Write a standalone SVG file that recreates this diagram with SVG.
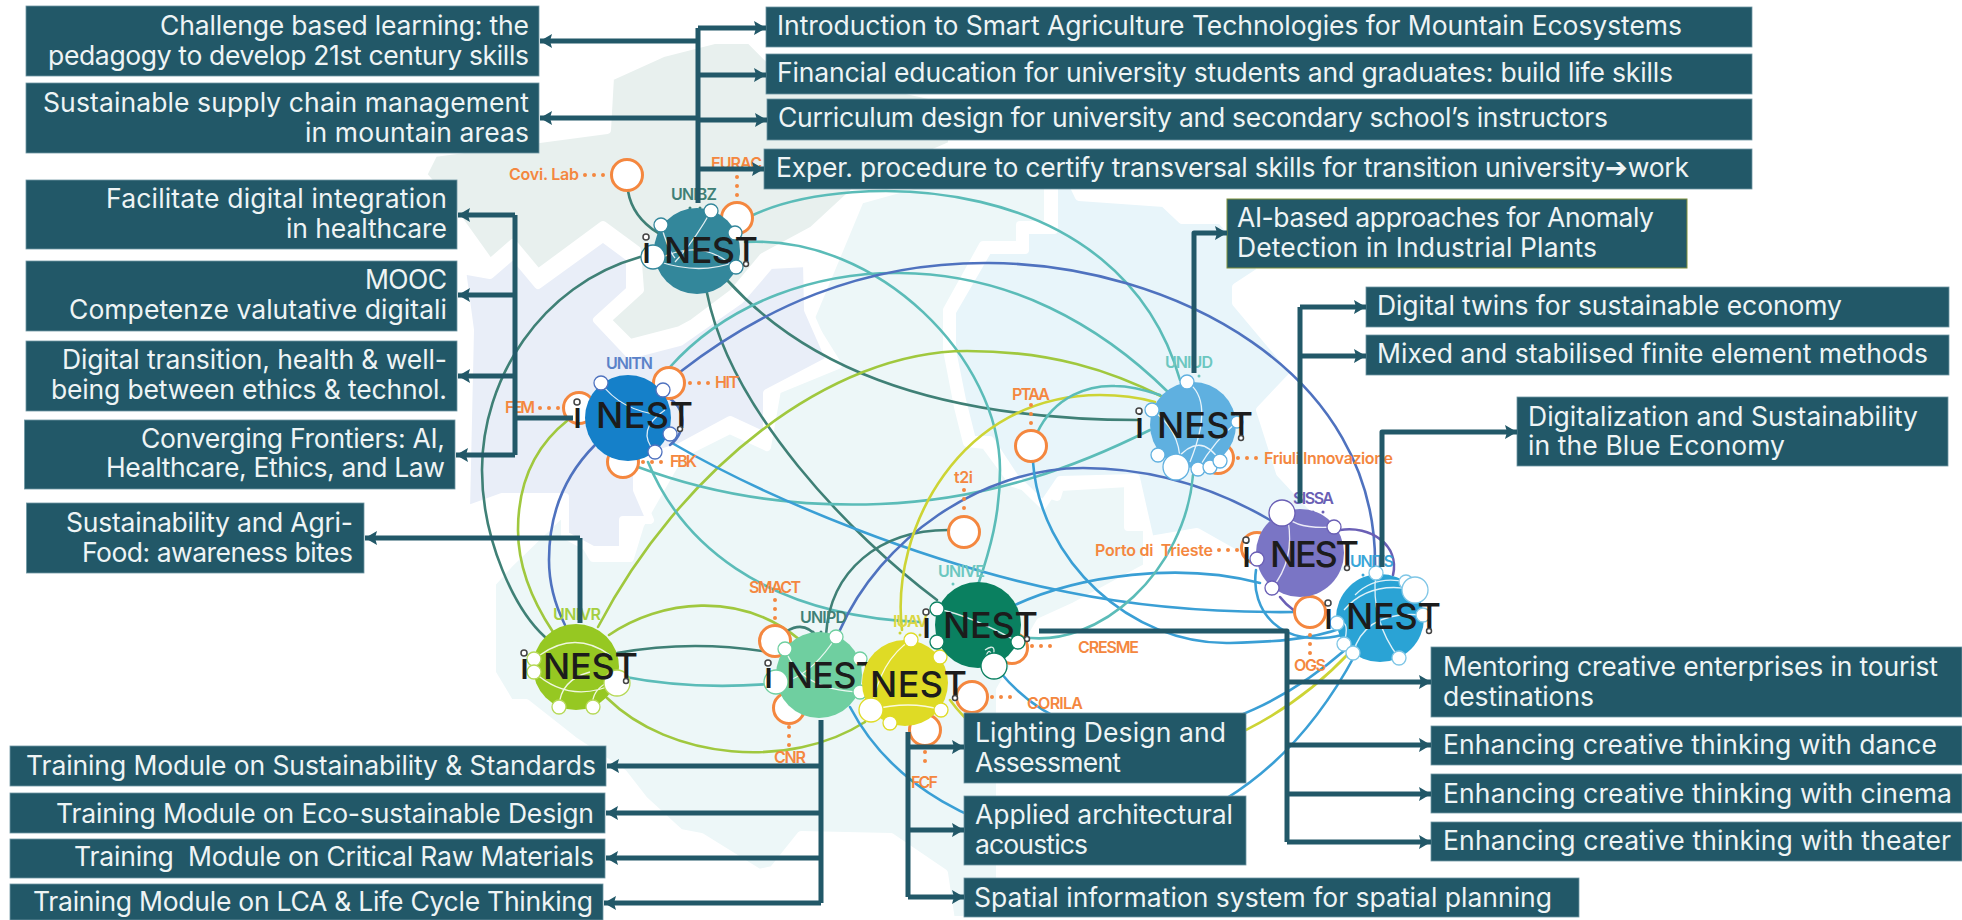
<svg xmlns="http://www.w3.org/2000/svg" width="1962" height="920" viewBox="0 0 1962 920">
<style>
.box{fill:#225868;stroke:#6f97a3;stroke-width:.8}
.t{font-family:"Inter","Liberation Sans",sans-serif;font-size:26.500px;fill:#eef4f5;font-weight:400}
.o{font-family:"Inter","Liberation Sans",sans-serif;font-size:16px;fill:#f4873f;font-weight:600}
.nl{font-family:"Inter","Liberation Sans",sans-serif;font-size:16px;font-weight:600}
.logo{font-family:"Inter","Liberation Sans",sans-serif;font-size:36px;fill:#1c1c1c;font-weight:500}
.ring{fill:#fff;stroke:#444;stroke-width:1.500}
.map{stroke:#fff;stroke-width:8;stroke-linejoin:round}
.c{fill:none;stroke-width:2.600;stroke-linecap:round}
.tg{stroke:#5bbcb8}.dg{stroke:#3f8076}.bl{stroke:#3a9fd5}.nv{stroke:#4f72bf}.yg{stroke:#a0c83e}.ye{stroke:#cdd435}.pu{stroke:#6a5fb5}
.p{fill:#fff;stroke:#f4873f;stroke-width:3}
.d{fill:none;stroke:#f4873f;stroke-width:4;stroke-linecap:round;stroke-dasharray:0 9}
.w{fill:none;stroke:#fff;stroke-width:1.300;opacity:.85}
.s{fill:#fff;stroke-width:1.300}
.a{fill:none;stroke:#225868;stroke-width:5;stroke-linejoin:round}
.ah{marker-end:url(#tip)}
</style>
<defs>
<marker id="tip" markerUnits="userSpaceOnUse" markerWidth="14" markerHeight="16" refX="12" refY="7.500" orient="auto"><path d="M0,0.500L12,7.500L0,14.500L2,7.500Z" fill="#225868"/></marker>
</defs>
<rect width="1962" height="920" fill="#fff"/>
<g id="map">
<polygon class="map" fill="#edf7f8" points="492,583 510,563 565,510 593,558 630,558 640,525 680,455 730,430 767,447 777,390 838,365 810,320 860,200 950,175 1048,145 1048,225 1020,225 1020,245 983,245 947,310 947,350 958,407 967,443 985,445 1013,483 1057,497 1060,487 1128,483 1128,527 1147,527 1147,567 1073,607 1040,622 1000,690 1000,865 1000,920 951,920 944,873 891,837 801,835 773,870 759,873 701,837 680,833 644,800 623,773 573,740 526,703 510,703 492,673"/>
<polygon class="map" fill="#e8f5fa" points="1054,145 1079,197 1164,203 1182,220 1221,220 1262,270 1236,287 1236,303 1295,373 1260,410 1280,473 1333,530 1350,572 1300,590 1197,532 1150,540 1136,478 1060,480 1043,505 1015,478 990,440 972,440 962,400 952,350 952,312 988,250 1025,250 1025,230 1054,230"/>
<polygon class="map" fill="#e9eef8" points="462,270 490,275 513,255 538,285 603,238 630,258 630,290 597,320 630,355 680,342 740,300 770,265 807,263 808,310 830,360 767,393 767,437 730,420 680,447 637,460 637,490 650,520 623,520 623,550 593,550 565,535 565,497 502,497 466,510 470,330"/>
<polygon class="map" fill="#e8f0ee" points="423,175 434,153 607,130 610,77 663,53 714,40 750,40 770,60 952,100 952,145 860,185 853,193 813,230 763,257 733,293 693,323 680,330 630,343 607,320 640,290 637,250 603,225 538,273 513,243 490,263 445,200"/>
</g>
<g id="connectors-links">
<path class="c dg" d="M628,191C632,215 650,228 658,233"/>
<path class="c dg" d="M640,257C540,285 482,380 482,470C482,540 515,610 545,637"/>
<path class="c dg" d="M707,293C730,410 850,535 937,600"/>
<path class="c dg" d="M727,280C800,360 920,420 1140,420"/>
<path class="c tg" d="M753,215C850,170 1120,170 1180,380"/>
<path class="c tg" d="M745,242C880,235 1000,360 1000,470C1000,515 990,550 978,585"/>
<path class="c tg" d="M670,367C730,300 820,272 900,273C1010,274 1100,325 1168,392"/>
<path class="c nv" d="M680,372C760,310 860,262 989,263C1170,264 1380,370 1375,570"/>
<path class="c yg" d="M598,627C680,470 830,351 967,351C1050,351 1110,370 1165,398"/>
<path class="c yg" d="M609,635C660,600 740,590 800,640"/>
<path class="c dg" d="M617,653Q700,638 785,655"/>
<path class="c tg" d="M620,676Q700,692 790,682"/>
<path class="c yg" d="M607,698C670,760 790,770 865,722"/>
<path class="c yg" d="M568,420C530,450 518,490 518,530C518,570 535,605 553,632"/>
<path class="c nv" d="M595,445C560,480 549,520 549,560C549,585 555,605 565,625"/>
<path class="c tg" d="M638,467C740,505 830,506 880,504C990,500 1080,465 1150,430"/>
<path class="c tg" d="M648,462C680,540 760,615 920,622"/>
<path class="c bl" d="M672,443C770,500 930,565 1067,592C1130,605 1200,613 1295,612"/>
<path class="c bl" d="M1015,605C1080,575 1180,562 1260,583"/>
<path class="c bl" d="M1256,570C1250,610 1280,650 1342,635"/>
<path class="c dg" d="M948,530C880,530 830,570 826,635"/>
<path class="c nv" d="M840,630C880,540 980,468 1083,468C1150,468 1210,485 1270,520"/>
<path class="c ye" d="M902,630C890,530 960,395 1100,395Q1130,395 1155,402"/>
<path class="c bl" d="M1033,462C1040,560 1130,645 1230,643C1270,642 1310,640 1342,628"/>
<path class="c tg" d="M1037,433C1055,395 1090,385 1115,386C1130,386 1145,390 1160,395"/>
<path class="c tg" d="M1193,475C1185,570 1100,650 1022,637"/>
<path class="c bl" d="M850,707C930,860 1210,925 1355,655"/>
<path class="c bl" d="M1000,672C1080,770 1230,750 1345,650"/>
<path class="c ye" d="M950,700C1030,810 1230,780 1350,652"/>
<path class="c dg" d="M787,631Q805,620 818,638"/>
<path class="c pu" d="M1340,530C1370,525 1400,545 1393,575"/>
<path class="c pu" d="M1280,597C1290,610 1300,615 1310,618"/>
<path class="c nv" d="M660,395C685,400 690,430 670,445"/>
</g>
<g id="partners">
<g id="p-covi"><path class="d" d="M585,175H606"/><circle class="p" cx="627" cy="175" r="15.500"/><text class="o" x="509" y="180" textLength="70">Covi. Lab</text></g>
<g id="p-eurac"><path class="d" d="M737,177V198"/><circle class="p" cx="737" cy="218" r="15.500"/><text class="o" x="711" y="169" textLength="51">EURAC</text></g>
<g id="p-hit"><path class="d" d="M690,383H711"/><circle class="p" cx="669" cy="383" r="15.500"/><text class="o" x="715" y="388" textLength="24">HIT</text></g>
<g id="p-fem"><path class="d" d="M540,408H561"/><circle class="p" cx="579" cy="408" r="15.500"/><text class="o" x="505" y="413" textLength="30">FEM</text></g>
<g id="p-fbk"><path class="d" d="M643,462H664"/><circle class="p" cx="623" cy="462" r="15.500"/><text class="o" x="670" y="467" textLength="27">FBK</text></g>
<g id="p-ptaa"><path class="d" d="M1031,405V426"/><circle class="p" cx="1031" cy="446" r="15.500"/><text class="o" x="1012" y="400" textLength="38">PTAA</text></g>
<g id="p-t2i"><path class="d" d="M964,490V511"/><circle class="p" cx="964" cy="532" r="15.500"/><text class="o" x="954" y="483" textLength="19">t2i</text></g>
<g id="p-friuli"><path class="d" d="M1238,458H1259"/><circle class="p" cx="1218" cy="458" r="15.500"/><text class="o" x="1264" y="464" textLength="129">Friuli Innovazione</text></g>
<g id="p-porto"><path class="d" d="M1219,550H1240"/><circle class="p" cx="1257" cy="548" r="15.500"/><text class="o" x="1095" y="556" textLength="118" xml:space="preserve">Porto di  Trieste</text></g>
<g id="p-ogs"><path class="d" d="M1310,635V661"/><circle class="p" cx="1310" cy="612" r="15.500"/><text class="o" x="1294" y="671" textLength="32">OGS</text></g>
<g id="p-cresme"><path class="d" d="M1032,646H1053"/><circle class="p" cx="1012" cy="648" r="15.500"/><text class="o" x="1078" y="653" textLength="61">CRESME</text></g>
<g id="p-corila"><path class="d" d="M992,697H1013"/><circle class="p" cx="972" cy="697" r="15.500"/><text class="o" x="1027" y="709" textLength="56">CORILA</text></g>
<g id="p-smact"><path class="d" d="M775,600V626"/><circle class="p" cx="775" cy="641" r="15.500"/><text class="o" x="749" y="593" textLength="52">SMACT</text></g>
<g id="p-cnr"><path class="d" d="M789,727V753"/><circle class="p" cx="789" cy="708" r="15.500"/><text class="o" x="774" y="763" textLength="32">CNR</text></g>
<g id="p-fcf"><path class="d" d="M925,752V770"/><circle class="p" cx="925" cy="730" r="15.500"/><text class="o" x="911" y="788" textLength="27">FCF</text></g>
</g>
<g id="node-unibz"><circle cx="690" cy="208" r="1.500" fill="#3f8076"/><circle cx="700" cy="208" r="1.500" fill="#3f8076"/><circle cx="697" cy="251" r="43" fill="#33879b"/>
<path class="w" d="M661,225Q668,250 675,258M711,211Q695,240 675,262M653,262Q700,235 735,268M660,262Q700,275 735,262"/>
<g class="s" stroke="#33879b"><circle cx="661" cy="225" r="7"/><circle cx="711" cy="211" r="7"/><circle cx="735" cy="233" r="7"/><circle cx="736" cy="267" r="7"/><circle cx="653" cy="257" r="12"/></g>
<text class="nl" x="671" y="200" textLength="46" fill="#3f8076">UNIBZ</text>
<text class="logo" x="642" y="263">i</text><text class="logo" x="664" y="263" textLength="94">NEST</text>
<circle class="ring" cx="646" cy="237" r="3"/><circle class="ring" cx="746" cy="264" r="2.500"/></g>
<g id="node-unitn"><circle cx="628" cy="418" r="43" fill="#1580c9"/>
<path class="w" d="M601,383Q620,410 660,415M655,452Q635,430 665,410"/>
<g class="s" stroke="#4f72bf"><circle cx="601" cy="383" r="7"/><circle cx="663" cy="390" r="7"/><circle cx="670" cy="434" r="7"/><circle cx="655" cy="452" r="7"/></g>
<text class="nl" x="606" y="369" textLength="47" fill="#5b82c8">UNITN</text>
<text class="logo" x="573" y="428">i</text><text class="logo" x="596" y="428" textLength="97">NEST</text>
<circle class="ring" cx="577" cy="402" r="3"/><circle class="ring" cx="680" cy="429" r="2.500"/></g>
<g id="node-uniud"><circle cx="1199" cy="376" r="1.500" fill="#6cc7c0"/><circle cx="1193" cy="425" r="43" fill="#5fb0e0"/>
<path class="w" d="M1187,382Q1215,400 1190,462M1152,410Q1180,430 1180,462M1176,460Q1200,430 1220,461M1237,422Q1215,440 1198,469"/>
<g class="s" stroke="#5fb0e0"><circle cx="1187" cy="382" r="7"/><circle cx="1152" cy="410" r="7"/><circle cx="1237" cy="422" r="6"/><circle cx="1158" cy="455" r="7"/><circle cx="1176" cy="467" r="13"/><circle cx="1198" cy="469" r="7"/><circle cx="1210" cy="467" r="7"/><circle cx="1220" cy="461" r="7"/></g>
<text class="nl" x="1165" y="368" textLength="48" fill="#6cc7c0">UNIUD</text>
<text class="logo" x="1135" y="438">i</text><text class="logo" x="1157" y="438" textLength="96">NEST</text>
<circle class="ring" cx="1139" cy="411" r="3"/><circle class="ring" cx="1241" cy="438" r="2.500"/></g>
<g id="node-sissa"><circle cx="1313" cy="512" r="1.500" fill="#6a5fb5"/><circle cx="1323" cy="512" r="1.500" fill="#6a5fb5"/><circle cx="1300" cy="553" r="44" fill="#7a75c5"/>
<path class="w" d="M1282,513Q1295,530 1334,527M1288,520Q1295,560 1272,588"/>
<g class="s" stroke="#6a5fb5"><circle cx="1282" cy="513" r="13"/><circle cx="1334" cy="527" r="7"/><circle cx="1257" cy="559" r="7"/><circle cx="1272" cy="588" r="7"/></g>
<text class="nl" x="1293" y="504" textLength="41" fill="#6a5fb5">SISSA</text>
<text class="logo" x="1242" y="567">i</text><text class="logo" x="1270" y="567" textLength="89">NEST</text>
<circle class="ring" cx="1246" cy="540" r="3"/><circle class="ring" cx="1347" cy="568" r="2.500"/></g>
<g id="node-units"><circle cx="1363" cy="575" r="1.500" fill="#3aa6d8"/><circle cx="1380" cy="618" r="44" fill="#2aa3d5"/>
<path class="w" d="M1344,610Q1370,580 1415,590M1355,595Q1375,575 1406,582M1376,573Q1370,620 1399,658M1353,653Q1365,610 1423,615M1344,644Q1350,620 1340,623"/>
<g class="s" stroke="#7fc6e6"><circle cx="1376" cy="573" r="7"/><circle cx="1406" cy="582" r="7"/><circle cx="1415" cy="590" r="13"/><circle cx="1423" cy="615" r="7"/><circle cx="1337" cy="623" r="7"/><circle cx="1344" cy="644" r="7"/><circle cx="1353" cy="653" r="7"/><circle cx="1399" cy="658" r="7"/></g>
<text class="nl" x="1350" y="567" textLength="44" fill="#3aa6d8">UNITS</text>
<text class="logo" x="1324" y="629">i</text><text class="logo" x="1346" y="629" textLength="95">NEST</text>
<circle class="ring" cx="1328" cy="603" r="3"/><circle class="ring" cx="1429" cy="631" r="2.500"/></g>
<g id="node-unipd"><circle cx="813" cy="632" r="1.500" fill="#3f8076"/><circle cx="821" cy="632" r="1.500" fill="#3f8076"/><circle cx="819" cy="675" r="43" fill="#6fcfa0"/>
<path class="w" d="M836,637Q815,670 790,680M785,649Q800,690 860,692"/>
<g class="s" stroke="#6fcfa0"><circle cx="785" cy="649" r="7"/><circle cx="836" cy="637" r="7"/><circle cx="860" cy="659" r="7"/><circle cx="860" cy="692" r="7"/><circle cx="776" cy="682" r="12"/></g>
<text class="nl" x="800" y="623" textLength="47" fill="#3f8076">UNIPD</text>
<text class="logo" x="764" y="688">i</text><text class="logo" x="786" y="688" textLength="93">NEST</text>
<circle class="ring" cx="768" cy="663" r="3"/><circle class="ring" cx="868" cy="690" r="2.500"/></g>
<g id="node-iuav"><circle cx="900" cy="633" r="1.500" fill="#cdd435"/><circle cx="920" cy="635" r="1.500" fill="#cdd435"/><circle cx="905" cy="683" r="43" fill="#dfdb25"/>
<path class="w" d="M911,640Q880,660 871,710M871,710Q910,700 941,710"/>
<g class="s" stroke="#dfdb25"><circle cx="911" cy="640" r="7"/><circle cx="871" cy="710" r="12"/><circle cx="890" cy="723" r="7"/><circle cx="941" cy="710" r="7"/><circle cx="940" cy="657" r="7"/></g>
<text class="nl" x="893" y="627" textLength="35" fill="#dbd743">IUAV</text>
<text class="logo" x="870" y="697" textLength="97">NEST</text>
<circle class="ring" cx="955" cy="698" r="2.500"/></g>
<g id="node-unive"><circle cx="953" cy="584" r="1.500" fill="#6cc7c0"/><circle cx="978" cy="625" r="43" fill="#0a8060"/>
<path class="w" d="M937,609Q970,615 1018,642M985,660Q990,640 994,666M985,650Q1000,640 990,666"/>
<g class="s" stroke="#0a8060"><circle cx="937" cy="609" r="7"/><circle cx="937" cy="642" r="7"/><circle cx="1018" cy="642" r="7"/><circle cx="994" cy="666" r="13"/></g>
<text class="nl" x="938" y="577" textLength="47" fill="#6cc7c0">UNIVE</text>
<text class="logo" x="922" y="638">i</text><text class="logo" x="943" y="638" textLength="95">NEST</text>
<circle class="ring" cx="926" cy="612" r="3"/><circle class="ring" cx="1027" cy="639" r="2.500"/></g>
<g id="node-univr"><circle cx="576" cy="667" r="43" fill="#96c822"/>
<path class="w" d="M540,655Q575,630 610,655M534,672Q570,705 617,683M559,707Q560,680 590,672M593,707Q590,690 612,680"/>
<g class="s" stroke="#b6d957"><circle cx="534" cy="659" r="7"/><circle cx="534" cy="672" r="7"/><circle cx="617" cy="683" r="13"/><circle cx="559" cy="707" r="7"/><circle cx="593" cy="707" r="7"/></g>
<text class="nl" x="553" y="620" textLength="48" fill="#a5cf40">UNIVR</text>
<text class="logo" x="520" y="679">i</text><text class="logo" x="543" y="679" textLength="95">NEST</text>
<circle class="ring" cx="524" cy="653" r="3"/><circle class="ring" cx="626" cy="681" r="2.500"/></g>
<g id="box-challenge"><rect class="box" x="26" y="6" width="513" height="70"/><text class="t" x="160" y="35" textLength="369">Challenge based learning: the</text><text class="t" x="48" y="65" textLength="481">pedagogy to develop 21st century skills</text></g>
<g id="box-supply"><rect class="box" x="26" y="83" width="513" height="70"/><text class="t" x="43" y="112" textLength="486">Sustainable supply chain management</text><text class="t" x="305" y="142" textLength="224">in mountain areas</text></g>
<g id="box-facilitate"><rect class="box" x="26" y="180" width="431" height="69"/><text class="t" x="106" y="208" textLength="341">Facilitate digital integration</text><text class="t" x="286" y="238" textLength="161">in healthcare</text></g>
<g id="box-mooc"><rect class="box" x="26" y="261" width="431" height="70"/><text class="t" x="365" y="289" textLength="82">MOOC</text><text class="t" x="69" y="319" textLength="378">Competenze valutative digitali</text></g>
<g id="box-transition"><rect class="box" x="26" y="341" width="431" height="70"/><text class="t" x="62" y="369" textLength="385">Digital transition, health &amp; well-</text><text class="t" x="51" y="399" textLength="396">being between ethics &amp; technol.</text></g>
<g id="box-converging"><rect class="box" x="24.500" y="420" width="430.500" height="69"/><text class="t" x="141" y="448" textLength="304">Converging Frontiers: AI,</text><text class="t" x="106" y="477" textLength="339">Healthcare, Ethics, and Law</text></g>
<g id="box-agrifood"><rect class="box" x="26.500" y="503" width="337.500" height="70"/><text class="t" x="66" y="532" textLength="287">Sustainability and Agri-</text><text class="t" x="82" y="562" textLength="271">Food: awareness bites</text></g>
<g id="box-standards"><rect class="box" x="10" y="746" width="596" height="40"/><text class="t" x="26" y="775" textLength="570">Training Module on Sustainability &amp; Standards</text></g>
<g id="box-eco"><rect class="box" x="10" y="793" width="595" height="40"/><text class="t" x="56" y="823" textLength="538">Training Module on Eco-sustainable Design</text></g>
<g id="box-raw"><rect class="box" x="10" y="839" width="595" height="39"/><text class="t" x="74" y="866" textLength="520" xml:space="preserve">Training  Module on Critical Raw Materials</text></g>
<g id="box-lca"><rect class="box" x="10" y="884" width="593" height="36"/><text class="t" x="33" y="911" textLength="560">Training Module on LCA &amp; Life Cycle Thinking</text></g>
<g id="box-lighting"><rect class="box" x="964" y="713" width="282" height="70"/><text class="t" x="975" y="742" textLength="251">Lighting Design and</text><text class="t" x="975" y="772" textLength="146">Assessment</text></g>
<g id="box-acoustics"><rect class="box" x="964" y="796" width="282" height="69"/><text class="t" x="975" y="824" textLength="258">Applied architectural</text><text class="t" x="975" y="854" textLength="113">acoustics</text></g>
<g id="box-spatial"><rect class="box" x="964" y="878" width="615" height="39"/><text class="t" x="974" y="907" textLength="578">Spatial information system for spatial planning</text></g>
<g id="box-mentoring"><rect class="box" x="1431" y="647" width="531" height="70"/><text class="t" x="1443" y="676" textLength="495">Mentoring creative enterprises in tourist</text><text class="t" x="1443" y="706" textLength="151">destinations</text></g>
<g id="box-dance"><rect class="box" x="1431" y="726" width="531" height="39"/><text class="t" x="1443" y="754" textLength="494">Enhancing creative thinking with dance</text></g>
<g id="box-cinema"><rect class="box" x="1431" y="774" width="531" height="39"/><text class="t" x="1443" y="803" textLength="509">Enhancing creative thinking with cinema</text></g>
<g id="box-theater"><rect class="box" x="1431" y="822" width="531" height="39"/><text class="t" x="1443" y="850" textLength="508">Enhancing creative thinking with theater</text></g>
<g id="box-twins"><rect class="box" x="1366" y="287" width="583" height="40"/><text class="t" x="1377" y="315" textLength="465">Digital twins for sustainable economy</text></g>
<g id="box-mixed"><rect class="box" x="1366" y="335" width="583" height="40"/><text class="t" x="1377" y="363" textLength="551">Mixed and stabilised finite element methods</text></g>
<g id="box-blue"><rect class="box" x="1517" y="397" width="431" height="69"/><text class="t" x="1528" y="426" textLength="390">Digitalization and Sustainability</text><text class="t" x="1528" y="455" textLength="257">in the Blue Economy</text></g>
<g id="box-anomaly"><rect x="1227" y="199" width="460" height="69" fill="#225868" stroke="#7f8f3a" stroke-width="1"/><text class="t" x="1237" y="227" textLength="417">AI-based approaches for Anomaly</text><text class="t" x="1237" y="257" textLength="360">Detection in Industrial Plants</text></g>
<g id="box-intro"><rect class="box" x="766" y="7" width="986" height="40"/><text class="t" x="777" y="35" textLength="905">Introduction to Smart Agriculture Technologies for Mountain Ecosystems</text></g>
<g id="box-financial"><rect class="box" x="766" y="54" width="986" height="40"/><text class="t" x="777" y="82" textLength="896">Financial education for university students and graduates: build life skills</text></g>
<g id="box-curriculum"><rect class="box" x="767" y="99" width="985" height="41"/><text class="t" x="778" y="127" textLength="830">Curriculum design for university and secondary school’s instructors</text></g>
<g id="box-exper"><rect class="box" x="764" y="149" width="988" height="40"/><text class="t" x="776" y="177" textLength="913">Exper. procedure to certify transversal skills for transition university➔work</text></g>
<g id="connectors-arrows">
<path class="a" d="M698,203V28"/>
<path class="a ah" d="M698,28H766"/><path class="a ah" d="M698,75H766"/><path class="a ah" d="M698,120H767"/><path class="a ah" d="M698,169H764"/>
<path class="a ah" d="M698,41H540"/><path class="a ah" d="M698,118H540"/>
<path class="a" d="M573,418H515M515,215V455"/>
<path class="a ah" d="M515,215H458"/><path class="a ah" d="M515,295H458"/><path class="a ah" d="M515,376H458"/><path class="a ah" d="M515,455H456"/>
<path class="a" d="M580,623V538"/><path class="a ah" d="M580,538H365"/>
<path class="a" d="M821,720V903"/>
<path class="a ah" d="M821,766H607"/><path class="a ah" d="M821,813H606"/><path class="a ah" d="M821,858H606"/><path class="a ah" d="M821,903H604"/>
<path class="a" d="M908,732V897"/>
<path class="a ah" d="M908,747H964"/><path class="a ah" d="M908,830H964"/><path class="a ah" d="M908,897H964"/>
<path class="a" d="M1039,631H1287V842"/>
<path class="a ah" d="M1287,682H1431"/><path class="a ah" d="M1287,745H1431"/><path class="a ah" d="M1287,794H1431"/><path class="a ah" d="M1287,842H1431"/>
<path class="a ah" d="M1194,373V233H1227"/>
<path class="a" d="M1300,503V307"/><path class="a ah" d="M1300,307H1366"/><path class="a ah" d="M1300,356H1366"/>
<path class="a ah" d="M1382,567V432H1517"/>
</g>
</svg>
